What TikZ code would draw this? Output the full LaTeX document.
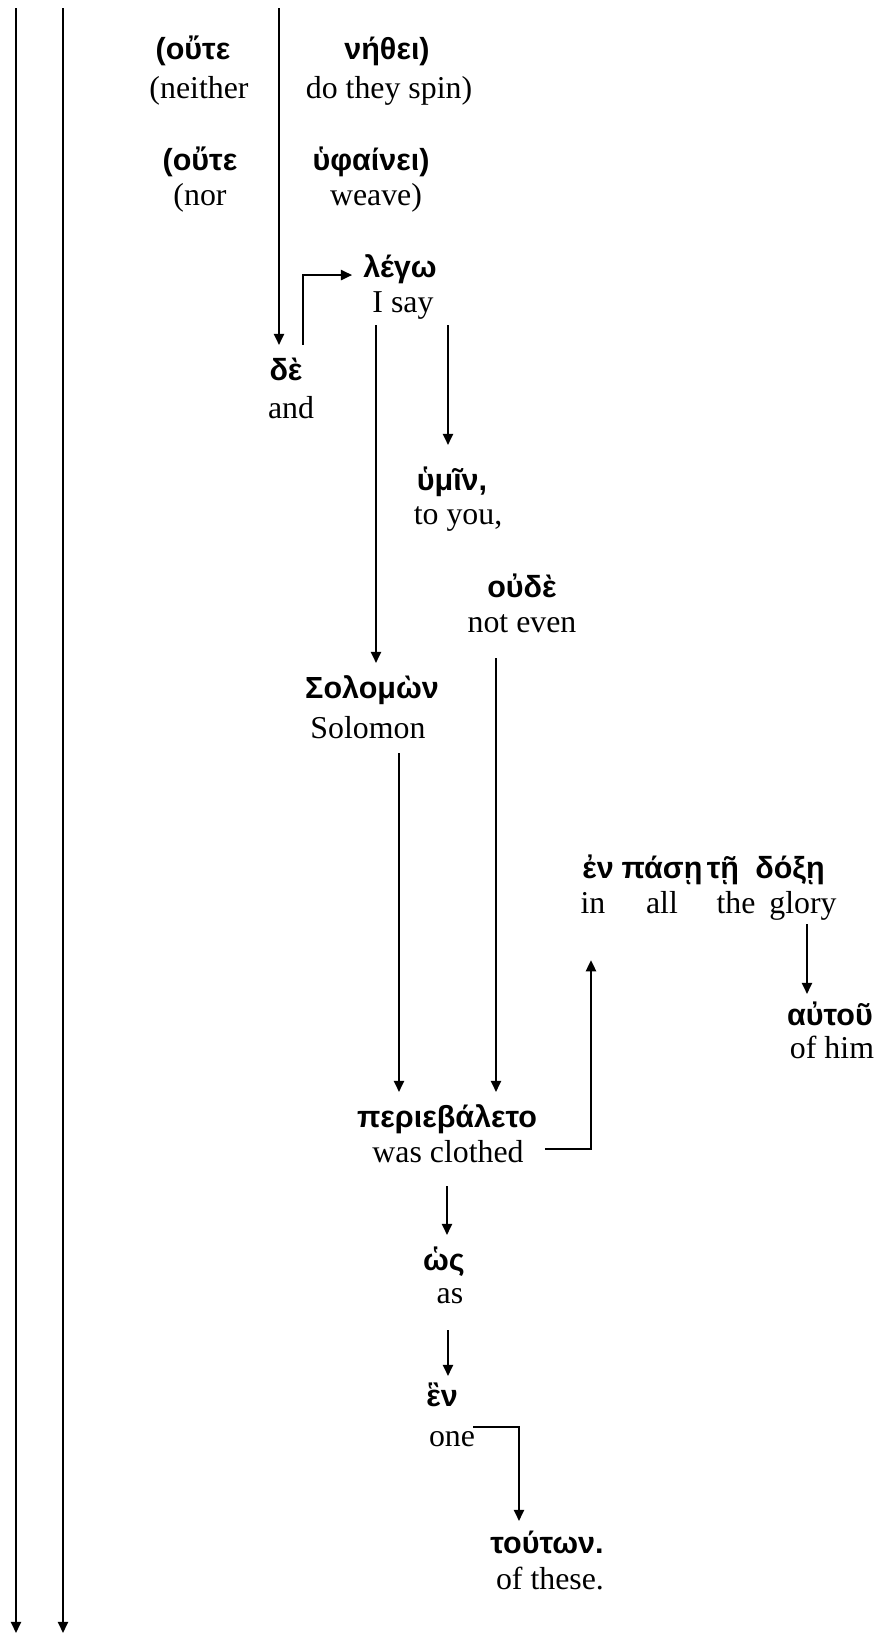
\documentclass[tikz,border=0pt]{standalone}
\usepackage{fontspec}
\setmainfont{Liberation Serif}
\newfontfamily\greekfont{Liberation Sans}
\usetikzlibrary{arrows.meta, calc}

\tikzset{
  gk/.style={font=\greekfont\bfseries\fontsize{11.5}{13}\selectfont, anchor=base,
    inner sep=4pt, text height=9pt, text depth=3pt},
  gl/.style={font=\fontsize{12}{14}\selectfont, anchor=base,
    inner sep=4pt, text height=9pt, text depth=3pt},
  arr/.style={line width=0.75pt, -{Triangle[length=4.2pt,width=3.8pt]}},
}

\begin{document}
\begin{tikzpicture}[x=0.01325cm, y=-0.01325cm]
  \useasboundingbox (0,0) rectangle (878,1635);

  % parenthesised clauses
  \node[gk] (g-oute1) at (193,59) {(οὔτε};
  \node[gl] (e-oute1) at (199,98) {(neither};
  \node[gk] (g-nethei) at (387,59) {νήθει)};
  \node[gl] (e-nethei) at (389,98) {do they spin)};
  \node[gk] (g-oute2) at (200,170) {(οὔτε};
  \node[gl] (e-oute2) at (200,205) {(nor};
  \node[gk] (g-hyph) at (371,170) {ὑφαίνει)};
  \node[gl] (e-hyph) at (376,205) {weave)};

  % main clause
  \node[gk] (g-lego) at (400,277) {λέγω};
  \node[gl] (e-lego) at (403,312) {I say};
  \node[gk] (g-de) at (286,380) {δὲ};
  \node[gl] (e-de) at (291,418) {and};
  \node[gk] (g-hymin) at (452,490) {ὑμῖν,};
  \node[gl] (e-hymin) at (458,524) {to you,};
  \node[gk] (g-oude) at (522,597) {οὐδὲ};
  \node[gl] (e-oude) at (522,632) {not even};
  \node[gk] (g-solomon) at (372,698) {Σολομὼν};
  \node[gl] (e-solomon) at (368,738) {Solomon};

  % prepositional phrase
  \node[gk] (g-en) at (598,878) {ἐν};
  \node[gk] (g-pase) at (662,878) {πάσῃ};
  \node[gk] (g-te) at (723,878) {τῇ};
  \node[gk] (g-doxe) at (790,878) {δόξῃ};
  \node[gl] (e-in) at (593,913) {in};
  \node[gl] (e-all) at (662,913) {all};
  \node[gl] (e-the) at (736,913) {the};
  \node[gl] (e-glory) at (803,913) {glory};
  \node[gk] (g-autou) at (830,1025) {αὐτοῦ};
  \node[gl] (e-autou) at (832,1058) {of him};

  % verb and comparison
  \node[gk] (g-perieb) at (447,1127) {περιεβάλετο};
  \node[gl] (e-perieb) at (448,1162) {was clothed};
  \node[gk] (g-hos) at (444,1270) {ὡς};
  \node[gl] (e-hos) at (450,1303) {as};
  \node[gk] (g-hen) at (442,1406) {ἓν};
  \node[gl] (e-hen) at (452,1446) {one};
  \node[gk] (g-touton) at (547,1553) {τούτων.};
  \node[gl] (e-touton) at (550,1589) {of these.};

  % long lines coming from above
  \coordinate (l1top) at (16,8);
  \coordinate (l1bot) at (16,1633);
  \coordinate (l2top) at (63,8);
  \coordinate (l2bot) at (63,1633);
  \coordinate (l3top) at (279,8);
  \draw[arr] (l1top) -- (l1bot);
  \draw[arr] (l2top) -- (l2bot);
  \draw[arr] (l3top) -- (l3top |- g-de.north);

  % connectors
  \draw[arr] ($(g-de.north)+(17,0)$) |- ($(g-lego.west)+(0,6)$);
  \draw[arr] ($(e-lego.south)+(-27,-6)$) -- ($(g-solomon.north)+(4,0)$);
  \draw[arr] ($(e-lego.south)+(45,-6)$) -- ($(g-hymin.north)+(-4,-10)$);
  \draw[arr] ($(e-solomon.south)+(31,-4)$) -- ($(g-perieb.north)+(-48,0)$);
  \draw[arr] ($(e-oude.south)+(-26,7)$) -- ($(g-perieb.north)+(49,0)$);
  \draw[arr] ($(e-perieb.east)+(10,-5)$) -| ($(e-in.south)+(-2,28)$);
  \draw[arr] ($(e-glory.south)+(4,-8)$) -- ($(g-autou.north)+(-23,4)$);
  \draw[arr] ($(e-perieb.south)+(-1,5)$) -- ($(g-hos.north)+(3,0)$);
  \draw[arr] ($(e-hos.south)+(-2,8)$) -- ($(g-hen.north)+(6,5)$);
  \draw[arr] ($(e-hen.east)+(-13,-11)$) -| ($(g-touton.north)+(-28,3)$);
\end{tikzpicture}
\end{document}
